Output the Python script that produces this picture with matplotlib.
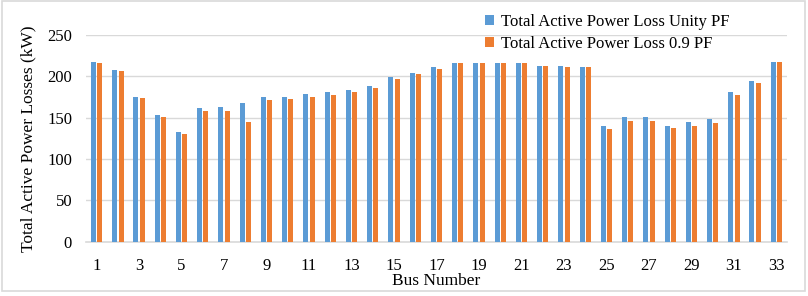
import numpy as np
import matplotlib
matplotlib.use("Agg")
import matplotlib.pyplot as plt
from matplotlib.patches import Rectangle

buses = list(range(1, 34))
loss_unity = [217, 208, 175, 153, 133, 162, 163, 168, 175, 175, 179, 181, 184, 188, 199, 204,
              211, 216, 216, 216, 216, 212, 212, 211, 140, 151, 151, 140, 145, 148.5, 181, 194.5, 217]
loss_09 = [216.5, 207, 173.5, 151, 130, 158, 158, 145, 171, 172, 175, 178, 181, 186, 197, 203,
           209, 216, 216, 216, 216, 212, 211, 211, 136, 146.5, 146.5, 137, 140, 144, 178, 192.5, 217]

plt.rcParams['font.family'] = ['Liberation Serif', 'DejaVu Serif']

fig = plt.figure(figsize=(8.08, 2.96), dpi=100)
ax = fig.add_axes([86 / 808, 1 - 241.7 / 296, 701 / 808, (241.7 - 35) / 296])

x = np.array(buses)
w = 0.235
ax.bar(x - 0.148, loss_unity, width=w, color='#5B9BD5', label='Total Active Power Loss Unity PF', zorder=3)
ax.bar(x + 0.148, loss_09, width=w, color='#ED7D31', label='Total Active Power Loss 0.9 PF', zorder=3)

ax.set_xlim(0.5, 33.5)
ax.set_ylim(0, 250)
ax.set_yticks(range(0, 251, 50))
ax.set_xticks(buses[::2])
ax.grid(axis='y', color='#D9D9D9', linewidth=1, zorder=0)
for s in ['top', 'right', 'left']:
    ax.spines[s].set_visible(False)
ax.spines['bottom'].set_color('#D9D9D9')
ax.spines['bottom'].set_linewidth(1.2)
ax.tick_params(axis='both', length=0, labelsize=12)
ax.tick_params(axis='x', pad=12)
ax.tick_params(axis='y', pad=10)

ax.set_ylabel('Total Active Power Losses (kW)', fontsize=12.5, labelpad=8)
fig.text(436 / 808, 1 - 281 / 296, 'Bus Number', ha='center', va='center', fontsize=12.5)

fig.legend(loc='upper left', bbox_to_anchor=(478 / 808, 1 - 7 / 296), frameon=False,
           fontsize=12, handlelength=0.55, handleheight=0.55, handletextpad=0.45,
           labelspacing=0.4, borderaxespad=0)

fig.patches.append(Rectangle((0.002, 1 - 291 / 296), 0.994, 291 / 296 - 0.004, transform=fig.transFigure,
                             fill=False, edgecolor='#D9D9D9', linewidth=1.2))

fig.savefig('out.png', dpi=100)
